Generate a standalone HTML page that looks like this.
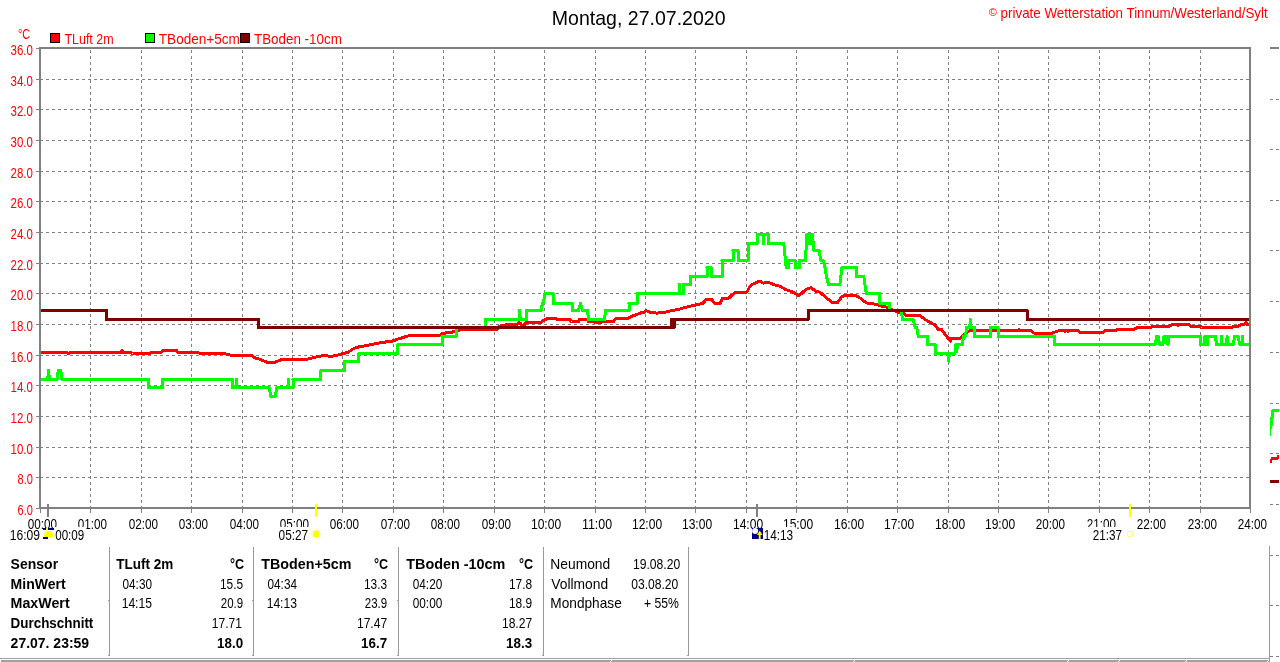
<!DOCTYPE html>
<html><head><meta charset="utf-8"><title>Wetterstation</title>
<style>
html,body{margin:0;padding:0;background:#fff;overflow:hidden}
svg{display:block;will-change:transform}
text{font-family:"Liberation Sans",sans-serif;font-size:14px;fill:#000;white-space:pre}
.r{fill:#ff0000}
.b{font-weight:bold}
.d{stroke:#808080;stroke-width:1;fill:none;stroke-dasharray:3 3;shape-rendering:crispEdges}
</style></head><body>
<svg width="1280" height="662" viewBox="0 0 1280 662">
<rect x="0" y="0" width="1280" height="662" fill="#fff"/>
<line class="d" x1="40" y1="79.5" x2="1249" y2="79.5"/>
<line class="d" x1="40" y1="109.5" x2="1249" y2="109.5"/>
<line class="d" x1="40" y1="140.5" x2="1249" y2="140.5"/>
<line class="d" x1="40" y1="171.5" x2="1249" y2="171.5"/>
<line class="d" x1="40" y1="201.5" x2="1249" y2="201.5"/>
<line class="d" x1="40" y1="232.5" x2="1249" y2="232.5"/>
<line class="d" x1="40" y1="263.5" x2="1249" y2="263.5"/>
<line class="d" x1="40" y1="293.5" x2="1249" y2="293.5"/>
<line class="d" x1="40" y1="324.5" x2="1249" y2="324.5"/>
<line class="d" x1="40" y1="355.5" x2="1249" y2="355.5"/>
<line class="d" x1="40" y1="385.5" x2="1249" y2="385.5"/>
<line class="d" x1="40" y1="416.5" x2="1249" y2="416.5"/>
<line class="d" x1="40" y1="447.5" x2="1249" y2="447.5"/>
<line class="d" x1="40" y1="477.5" x2="1249" y2="477.5"/>
<line class="d" x1="90.5" y1="47" x2="90.5" y2="507" stroke-dashoffset="3"/>
<line class="d" x1="141.5" y1="47" x2="141.5" y2="507" stroke-dashoffset="3"/>
<line class="d" x1="191.5" y1="47" x2="191.5" y2="507" stroke-dashoffset="3"/>
<line class="d" x1="242.5" y1="47" x2="242.5" y2="507" stroke-dashoffset="3"/>
<line class="d" x1="292.5" y1="47" x2="292.5" y2="507" stroke-dashoffset="3"/>
<line class="d" x1="342.5" y1="47" x2="342.5" y2="507" stroke-dashoffset="3"/>
<line class="d" x1="393.5" y1="47" x2="393.5" y2="507" stroke-dashoffset="3"/>
<line class="d" x1="443.5" y1="47" x2="443.5" y2="507" stroke-dashoffset="3"/>
<line class="d" x1="494.5" y1="47" x2="494.5" y2="507" stroke-dashoffset="3"/>
<line class="d" x1="544.5" y1="47" x2="544.5" y2="507" stroke-dashoffset="3"/>
<line class="d" x1="595.5" y1="47" x2="595.5" y2="507" stroke-dashoffset="3"/>
<line class="d" x1="645.5" y1="47" x2="645.5" y2="507" stroke-dashoffset="3"/>
<line class="d" x1="695.5" y1="47" x2="695.5" y2="507" stroke-dashoffset="3"/>
<line class="d" x1="746.5" y1="47" x2="746.5" y2="507" stroke-dashoffset="3"/>
<line class="d" x1="796.5" y1="47" x2="796.5" y2="507" stroke-dashoffset="3"/>
<line class="d" x1="847.5" y1="47" x2="847.5" y2="507" stroke-dashoffset="3"/>
<line class="d" x1="897.5" y1="47" x2="897.5" y2="507" stroke-dashoffset="3"/>
<line class="d" x1="948.5" y1="47" x2="948.5" y2="507" stroke-dashoffset="3"/>
<line class="d" x1="998.5" y1="47" x2="998.5" y2="507" stroke-dashoffset="3"/>
<line class="d" x1="1048.5" y1="47" x2="1048.5" y2="507" stroke-dashoffset="3"/>
<line class="d" x1="1099.5" y1="47" x2="1099.5" y2="507" stroke-dashoffset="3"/>
<line class="d" x1="1149.5" y1="47" x2="1149.5" y2="507" stroke-dashoffset="3"/>
<line class="d" x1="1200.5" y1="47" x2="1200.5" y2="507" stroke-dashoffset="3"/>
<g fill="none" stroke-width="3" stroke-linejoin="round" stroke-linecap="butt" shape-rendering="crispEdges">
<path stroke="#ff0000" d="M40.0 352.5 L67.0 352.5 L68.5 353.5 L70.0 352.5 L121.0 352.5 L122.3 350.5 L123.5 352.5 L131.0 352.5 L132.5 353.5 L150.0 353.5 L151.5 352.5 L161.0 352.5 L163.0 350.5 L176.5 350.5 L178.0 352.5 L179.0 353.0 L180.0 352.5 L198.0 352.5 L200.0 353.5 L208.8 353.5 L209.4 354.3 L210.0 353.5 L225.0 353.5 L227.0 354.5 L230.0 355.0 L251.0 355.0 L254.4 357.6 L260.4 359.5 L266.5 362.0 L267.0 362.5 L274.5 362.5 L278.0 361.0 L281.6 359.5 L300.0 359.5 L308.0 359.0 L312.0 358.0 L316.3 357.0 L321.0 356.0 L323.0 355.3 L326.0 355.5 L328.0 356.0 L333.0 356.0 L338.0 355.0 L342.0 353.8 L347.0 352.7 L350.0 351.0 L353.0 349.0 L356.0 347.5 L365.0 345.8 L380.0 342.8 L394.0 340.8 L398.3 338.9 L404.4 337.1 L409.5 335.5 L440.6 335.5 L442.0 333.5 L454.0 331.8 L458.8 330.5 L461.0 329.4 L497.0 329.4 L500.0 326.0 L507.5 324.5 L516.6 324.5 L518.0 323.5 L519.2 322.5 L520.4 323.5 L521.5 325.0 L524.0 325.0 L526.4 322.5 L540.8 322.2 L546.8 318.6 L555.9 318.3 L557.0 319.2 L569.5 319.5 L571.5 321.5 L578.5 321.5 L579.5 319.5 L587.0 319.5 L588.5 321.5 L595.0 321.5 L595.5 322.5 L600.5 322.5 L601.0 321.5 L613.5 321.5 L616.0 318.7 L620.0 318.2 L628.4 318.2 L633.0 315.6 L636.7 314.7 L640.5 312.9 L644.3 312.4 L645.8 310.6 L647.3 311.0 L651.0 312.6 L657.6 313.1 L665.1 312.3 L672.7 310.4 L680.2 308.9 L687.8 306.7 L695.3 305.1 L702.9 303.3 L704.5 301.5 L706.0 299.5 L711.7 299.5 L714.5 303.3 L720.4 303.3 L722.0 298.8 L728.0 298.8 L734.7 292.7 L746.4 292.5 L748.0 290.0 L749.7 286.6 L752.0 284.5 L754.2 283.6 L757.0 282.5 L759.5 281.1 L761.5 282.0 L763.3 283.2 L765.5 282.5 L767.8 282.1 L770.0 283.0 L773.9 284.7 L779.9 286.2 L786.0 289.7 L792.0 291.6 L796.0 294.0 L798.8 295.9 L801.5 293.5 L805.6 289.6 L810.9 287.7 L813.0 289.0 L815.4 291.1 L819.9 292.2 L825.2 296.7 L829.0 300.0 L832.8 302.8 L837.3 302.8 L839.5 300.0 L841.8 296.7 L844.0 295.6 L847.9 295.2 L853.0 295.2 L856.9 296.0 L861.5 299.0 L866.0 302.8 L870.0 303.5 L876.6 304.3 L881.9 306.1 L887.1 307.3 L891.7 309.6 L896.0 311.5 L898.0 312.3 L900.0 312.0 L903.0 313.0 L906.3 315.3 L919.5 315.3 L922.0 317.0 L925.2 319.5 L932.8 324.0 L935.0 324.8 L937.3 328.0 L938.0 329.5 L941.5 329.5 L945.0 334.0 L948.0 338.0 L950.3 341.0 L951.5 338.5 L959.6 338.5 L963.0 335.5 L966.5 332.5 L969.9 330.5 L1018.5 330.5 L1019.0 329.8 L1019.5 330.5 L1031.0 330.5 L1033.0 332.5 L1034.7 333.3 L1051.0 333.5 L1055.0 332.0 L1058.6 330.8 L1064.5 330.8 L1065.0 331.8 L1065.5 330.8 L1067.5 330.8 L1068.0 331.8 L1068.5 330.8 L1078.2 330.8 L1080.5 332.7 L1102.4 332.7 L1105.4 330.5 L1116.0 330.5 L1117.5 329.6 L1134.1 329.6 L1135.5 328.5 L1137.0 327.5 L1150.7 327.3 L1152.0 326.6 L1168.9 326.6 L1170.5 325.5 L1171.9 324.8 L1177.5 324.7 L1178.0 325.7 L1178.5 324.7 L1189.4 324.5 L1191.0 326.5 L1200.4 326.5 L1201.5 327.5 L1231.7 327.5 L1232.9 326.5 L1238.2 326.5 L1240.4 324.8 L1244.2 324.5 L1246.0 322.5 L1247.5 324.5 L1249.0 324.5"/>
<path stroke="#00ff00" d="M40.0 379.5 L47.7 379.5 L48.6 370.5 L49.5 379.5 L57.2 379.5 L58.2 370.5 L60.8 370.5 L61.8 379.5 L148.5 379.5 L148.5 387.5 L162.5 387.5 L162.5 379.5 L232.3 379.5 L232.3 387.5 L235.8 387.5 L236.4 379.5 L237.0 387.5 L269.3 387.5 L270.8 396.5 L275.2 396.5 L276.7 387.5 L288.3 387.5 L288.6 379.5 L288.9 387.5 L293.0 387.5 L293.0 379.5 L320.7 379.5 L320.7 370.5 L344.5 370.5 L344.5 361.5 L358.7 361.5 L358.7 353.5 L397.8 353.5 L397.8 344.5 L442.0 344.5 L442.0 336.5 L456.0 336.5 L456.0 327.5 L485.5 327.5 L485.5 319.5 L518.9 319.5 L519.6 310.5 L520.3 319.5 L526.5 319.5 L526.5 310.5 L541.3 310.5 L542.3 303.5 L543.3 303.5 L544.8 293.5 L553.3 293.5 L553.3 303.5 L572.2 303.5 L572.2 310.5 L578.5 310.5 L580.5 303.5 L582.5 310.5 L587.6 310.5 L588.5 319.5 L604.5 319.5 L605.5 310.5 L629.0 310.5 L629.0 303.5 L637.0 303.5 L637.0 293.5 L679.2 293.5 L679.5 284.5 L679.8 293.5 L683.5 293.5 L683.5 284.5 L690.6 284.5 L690.6 276.5 L707.0 276.5 L707.0 267.5 L711.2 267.5 L711.2 276.5 L722.0 276.5 L722.0 260.5 L733.0 260.5 L733.0 250.5 L738.0 250.5 L738.0 260.5 L748.3 260.5 L748.3 243.5 L757.2 243.5 L757.2 234.5 L763.2 234.5 L763.6 243.5 L764.0 234.5 L768.5 234.5 L768.5 243.5 L783.8 243.5 L786.2 267.5 L788.7 267.5 L788.7 260.5 L795.0 260.5 L795.0 267.5 L799.5 267.5 L799.5 260.5 L805.5 260.5 L806.8 234.5 L808.0 234.5 L808.8 243.5 L809.6 234.5 L810.4 243.5 L811.2 234.5 L812.5 234.5 L813.8 250.5 L819.0 250.5 L820.8 260.5 L823.2 260.5 L825.0 267.5 L826.5 276.5 L828.5 284.5 L839.8 284.5 L842.0 267.5 L856.6 267.5 L856.6 276.5 L863.8 276.5 L866.3 293.5 L879.7 293.5 L879.7 303.5 L889.5 303.5 L889.5 310.5 L901.3 310.5 L902.5 319.5 L913.2 319.5 L915.2 327.5 L916.8 327.5 L918.3 336.5 L927.5 336.5 L927.5 344.5 L935.2 344.5 L935.2 353.5 L948.2 353.5 L948.7 361.5 L949.2 353.5 L955.0 353.5 L955.8 344.5 L956.7 351.5 L957.6 344.5 L962.4 344.5 L963.4 336.5 L965.4 336.5 L966.6 327.5 L969.9 327.5 L970.2 319.5 L970.5 327.5 L974.4 327.5 L974.4 336.5 L990.5 336.5 L990.5 327.5 L998.0 327.5 L998.0 336.5 L1054.6 336.5 L1054.6 344.5 L1155.2 344.5 L1156.6 336.5 L1158.0 336.5 L1159.6 344.5 L1162.9 344.5 L1164.0 336.5 L1165.4 336.5 L1166.2 342.5 L1167.0 336.5 L1168.0 344.5 L1168.9 336.5 L1200.5 336.5 L1200.5 344.5 L1204.4 344.5 L1205.0 336.5 L1205.6 344.5 L1206.6 344.5 L1207.4 344.5 L1207.4 336.5 L1215.5 336.5 L1216.5 344.5 L1221.2 344.5 L1221.5 336.5 L1221.8 344.5 L1226.6 344.5 L1227.1 336.5 L1227.6 344.5 L1233.3 344.5 L1234.5 336.5 L1238.0 336.5 L1239.7 344.5 L1242.3 344.5 L1242.6 336.5 L1242.9 344.5 L1249.0 344.5"/>
<path stroke="#800000" d="M40.0 310.5 L106.5 310.5 L106.5 319.5 L258.5 319.5 L258.5 327.5 L671.5 327.5 L671.5 319.5 L673.3 319.5 L674.0 328.0 L674.7 319.5 L808.2 319.5 L808.2 310.5 L1027.2 310.5 L1027.2 319.5 L1249.0 319.5"/>
</g>
<g fill="#808080" shape-rendering="crispEdges">
<rect x="39" y="47" width="1212" height="2"/>
<rect x="39" y="507" width="1212" height="2"/>
<rect x="39" y="47" width="2" height="462"/>
<rect x="1249" y="47" width="2" height="462"/>
<rect x="36" y="48" width="3" height="1"/>
<rect x="36" y="79" width="3" height="1"/>
<rect x="36" y="109" width="3" height="1"/>
<rect x="36" y="140" width="3" height="1"/>
<rect x="36" y="171" width="3" height="1"/>
<rect x="36" y="201" width="3" height="1"/>
<rect x="36" y="232" width="3" height="1"/>
<rect x="36" y="263" width="3" height="1"/>
<rect x="36" y="293" width="3" height="1"/>
<rect x="36" y="324" width="3" height="1"/>
<rect x="36" y="355" width="3" height="1"/>
<rect x="36" y="385" width="3" height="1"/>
<rect x="36" y="416" width="3" height="1"/>
<rect x="36" y="447" width="3" height="1"/>
<rect x="36" y="477" width="3" height="1"/>
<rect x="36" y="508" width="3" height="1"/>
<rect x="40" y="509" width="1" height="4"/>
<rect x="90" y="509" width="1" height="4"/>
<rect x="141" y="509" width="1" height="4"/>
<rect x="191" y="509" width="1" height="4"/>
<rect x="242" y="509" width="1" height="4"/>
<rect x="292" y="509" width="1" height="4"/>
<rect x="342" y="509" width="1" height="4"/>
<rect x="393" y="509" width="1" height="4"/>
<rect x="443" y="509" width="1" height="4"/>
<rect x="494" y="509" width="1" height="4"/>
<rect x="544" y="509" width="1" height="4"/>
<rect x="595" y="509" width="1" height="4"/>
<rect x="645" y="509" width="1" height="4"/>
<rect x="695" y="509" width="1" height="4"/>
<rect x="746" y="509" width="1" height="4"/>
<rect x="796" y="509" width="1" height="4"/>
<rect x="847" y="509" width="1" height="4"/>
<rect x="897" y="509" width="1" height="4"/>
<rect x="948" y="509" width="1" height="4"/>
<rect x="998" y="509" width="1" height="4"/>
<rect x="1048" y="509" width="1" height="4"/>
<rect x="1099" y="509" width="1" height="4"/>
<rect x="1149" y="509" width="1" height="4"/>
<rect x="1200" y="509" width="1" height="4"/>
<rect x="1250" y="509" width="1" height="4"/>
<rect x="47" y="504" width="2" height="13"/>
<rect x="756" y="504" width="2" height="13"/>
</g>
<rect x="315" y="504" width="2" height="13" fill="#ffff00"/>
<rect x="1129" y="504" width="2" height="13" fill="#ffff00"/>
<rect x="50.5" y="33.5" width="9" height="9" fill="#ff0000" stroke="#000" stroke-width="1" shape-rendering="crispEdges"/>
<rect x="145.5" y="33.5" width="9" height="9" fill="#00ff00" stroke="#000" stroke-width="1" shape-rendering="crispEdges"/>
<rect x="240.5" y="33.5" width="9" height="9" fill="#800000" stroke="#000" stroke-width="1" shape-rendering="crispEdges"/>
<text transform="translate(551.84 24.6) scale(0.9624 1)" style="font-size:20.3px;">Montag, 27.07.2020</text>
<text transform="translate(988.80 16.0) scale(1.0125 1)" style="font-size:11px;fill:#ff0000;">©</text>
<text transform="translate(1000.60 18.0) scale(0.9555 1)" style="fill:#ff0000;">private Wetterstation Tinnum/Westerland/Sylt</text>
<text transform="translate(64.40 44.0) scale(0.8923 1)" style="fill:#ff0000;">TLuft 2m</text>
<text transform="translate(158.80 44.0) scale(0.9711 1)" style="fill:#ff0000;">TBoden+5cm</text>
<text transform="translate(254.00 44.0) scale(0.9577 1)" style="fill:#ff0000;">TBoden -10cm</text>
<text transform="translate(18.00 39.0) scale(0.7821 1)" style="fill:#ff0000;">°C</text>
<text transform="translate(10.60 55.0) scale(0.8193 1)" style="fill:#ff0000;">36.0</text>
<text transform="translate(10.60 86.0) scale(0.8193 1)" style="fill:#ff0000;">34.0</text>
<text transform="translate(10.60 116.0) scale(0.8193 1)" style="fill:#ff0000;">32.0</text>
<text transform="translate(10.60 147.0) scale(0.8193 1)" style="fill:#ff0000;">30.0</text>
<text transform="translate(10.60 178.0) scale(0.8193 1)" style="fill:#ff0000;">28.0</text>
<text transform="translate(10.60 208.0) scale(0.8193 1)" style="fill:#ff0000;">26.0</text>
<text transform="translate(10.60 239.0) scale(0.8193 1)" style="fill:#ff0000;">24.0</text>
<text transform="translate(10.60 270.0) scale(0.8193 1)" style="fill:#ff0000;">22.0</text>
<text transform="translate(10.60 300.0) scale(0.8193 1)" style="fill:#ff0000;">20.0</text>
<text transform="translate(10.58 331.0) scale(0.8200 1)" style="fill:#ff0000;">18.0</text>
<text transform="translate(10.58 362.0) scale(0.8200 1)" style="fill:#ff0000;">16.0</text>
<text transform="translate(10.58 392.0) scale(0.8200 1)" style="fill:#ff0000;">14.0</text>
<text transform="translate(10.58 423.0) scale(0.8200 1)" style="fill:#ff0000;">12.0</text>
<text transform="translate(10.58 454.0) scale(0.8200 1)" style="fill:#ff0000;">10.0</text>
<text transform="translate(17.60 484.0) scale(0.7878 1)" style="fill:#ff0000;">8.0</text>
<text transform="translate(17.60 515.0) scale(0.7878 1)" style="fill:#ff0000;">6.0</text>
<text transform="translate(27.80 529.0) scale(0.8369 1)">00:00</text>
<text transform="translate(77.80 529.0) scale(0.8369 1)">01:00</text>
<text transform="translate(128.80 529.0) scale(0.8369 1)">02:00</text>
<text transform="translate(178.80 529.0) scale(0.8369 1)">03:00</text>
<text transform="translate(229.80 529.0) scale(0.8369 1)">04:00</text>
<text transform="translate(279.80 529.0) scale(0.8369 1)">05:00</text>
<text transform="translate(329.80 529.0) scale(0.8369 1)">06:00</text>
<text transform="translate(380.80 529.0) scale(0.8369 1)">07:00</text>
<text transform="translate(430.80 529.0) scale(0.8369 1)">08:00</text>
<text transform="translate(481.80 529.0) scale(0.8369 1)">09:00</text>
<text transform="translate(530.94 529.0) scale(0.8614 1)">10:00</text>
<text transform="translate(581.91 529.0) scale(0.8883 1)">11:00</text>
<text transform="translate(631.94 529.0) scale(0.8614 1)">12:00</text>
<text transform="translate(681.94 529.0) scale(0.8614 1)">13:00</text>
<text transform="translate(732.94 529.0) scale(0.8614 1)">14:00</text>
<text transform="translate(782.94 529.0) scale(0.8614 1)">15:00</text>
<text transform="translate(833.94 529.0) scale(0.8614 1)">16:00</text>
<text transform="translate(883.94 529.0) scale(0.8614 1)">17:00</text>
<text transform="translate(934.94 529.0) scale(0.8614 1)">18:00</text>
<text transform="translate(984.94 529.0) scale(0.8614 1)">19:00</text>
<text transform="translate(1035.80 529.0) scale(0.8369 1)">20:00</text>
<text transform="translate(1086.80 529.0) scale(0.8369 1)">21:00</text>
<text transform="translate(1136.80 529.0) scale(0.8369 1)">22:00</text>
<text transform="translate(1187.80 529.0) scale(0.8369 1)">23:00</text>
<text transform="translate(1237.80 529.0) scale(0.8369 1)">24:00</text>
<text transform="translate(10.60 569.0) scale(1.0028 1)" class="b">Sensor</text>
<text transform="translate(10.60 589.0) scale(1.0018 1)" class="b">MinWert</text>
<text transform="translate(10.60 608.0) scale(1.0166 1)" class="b">MaxWert</text>
<text transform="translate(10.60 628.0) scale(0.9593 1)" class="b">Durchschnitt</text>
<text transform="translate(10.60 648.0) scale(0.9996 1)" class="b">27.07. 23:59</text>
<text transform="translate(116.30 569.0) scale(0.9667 1)" class="b">TLuft 2m</text>
<text transform="translate(230.00 569.0) scale(0.8975 1)" class="b">°C</text>
<text transform="translate(122.50 589.0) scale(0.8426 1)">04:30</text>
<text transform="translate(219.95 589.0) scale(0.8503 1)">15.5</text>
<text transform="translate(121.63 608.0) scale(0.8672 1)">14:15</text>
<text transform="translate(220.80 608.0) scale(0.8193 1)">20.9</text>
<text transform="translate(211.74 628.0) scale(0.8614 1)">17.71</text>
<text transform="translate(217.10 648.0) scale(0.9540 1)" class="b">18.0</text>
<text transform="translate(261.25 569.0) scale(1.0216 1)" class="b">TBoden+5cm</text>
<text transform="translate(374.00 569.0) scale(0.8975 1)" class="b">°C</text>
<text transform="translate(267.50 589.0) scale(0.8426 1)">04:34</text>
<text transform="translate(363.95 589.0) scale(0.8503 1)">13.3</text>
<text transform="translate(266.63 608.0) scale(0.8672 1)">14:13</text>
<text transform="translate(364.80 608.0) scale(0.8193 1)">23.9</text>
<text transform="translate(356.94 628.0) scale(0.8614 1)">17.47</text>
<text transform="translate(361.10 648.0) scale(0.9540 1)" class="b">16.7</text>
<text transform="translate(406.25 569.0) scale(1.0285 1)" class="b">TBoden -10cm</text>
<text transform="translate(519.00 569.0) scale(0.8975 1)" class="b">°C</text>
<text transform="translate(412.75 589.0) scale(0.8426 1)">04:20</text>
<text transform="translate(508.95 589.0) scale(0.8503 1)">17.8</text>
<text transform="translate(412.75 608.0) scale(0.8426 1)">00:00</text>
<text transform="translate(508.95 608.0) scale(0.8503 1)">18.9</text>
<text transform="translate(501.94 628.0) scale(0.8614 1)">18.27</text>
<text transform="translate(506.10 648.0) scale(0.9540 1)" class="b">18.3</text>
<text transform="translate(550.31 569.0) scale(0.9878 1)">Neumond</text>
<text transform="translate(632.93 569.0) scale(0.8676 1)">19.08.20</text>
<text transform="translate(551.30 589.0) scale(0.9876 1)">Vollmond</text>
<text transform="translate(631.20 589.0) scale(0.8646 1)">03.08.20</text>
<text transform="translate(550.32 608.0) scale(0.9768 1)">Mondphase</text>
<text transform="translate(643.90 608.0) scale(0.8729 1)">+ 55%</text>
<text transform="translate(9.74 540.0) scale(0.8643 1)">16:09</text>
<rect x="54.2" y="527" width="32.2" height="14" fill="#fff"/>
<text transform="translate(55.20 540.0) scale(0.8284 1)">00:09</text>
<rect x="271.6" y="527" width="39.7" height="14" fill="#fff"/>
<text transform="translate(278.60 540.0) scale(0.8426 1)">05:27</text>
<rect x="763.5" y="527" width="31.9" height="14" fill="#fff"/>
<text transform="translate(763.66 540.0) scale(0.8438 1)">14:13</text>
<rect x="1085.7" y="527" width="39.5" height="14" fill="#fff"/>
<text transform="translate(1092.70 540.0) scale(0.8369 1)">21:37</text>
<g shape-rendering="crispEdges">
<rect x="43" y="528" width="12" height="12" fill="#fff"/>
<rect x="43" y="528" width="11" height="2" fill="#000080"/>
<rect x="46" y="528" width="2" height="2" fill="#ffff00"/>
<rect x="43" y="537" width="5" height="2" fill="#000080"/>
</g>
<path d="M44 537 L44 535.2 Q44.6 531 48.6 531 Q52.6 531 53.2 535.2 L53.2 537 Z" fill="#ffff00"/>
<g stroke="#ffff80" stroke-width="1" fill="none"><path d="M312 530 L320.5 538.5 M320.5 530 L312 538.5 M316.2 528.5 V539.5 M311 534 H321.5"/></g>
<circle cx="316.2" cy="534" r="3.4" fill="#ffff00"/>
<rect x="752" y="528" width="11" height="11" fill="#000080" shape-rendering="crispEdges"/>
<circle cx="755.1" cy="531.1" r="3" fill="#fff"/>
<path d="M759.7 530.5 L762.5 535 L760.6 535 L760.6 539 L758.8 539 L758.8 535 L757 535 Z" fill="#ffff00"/>
<rect x="1127.5" y="531.5" width="5" height="5" rx="1" fill="none" stroke="#ffff60" stroke-width="1"/>
<g fill="#808080" shape-rendering="crispEdges">
<rect x="1270" y="47" width="9" height="2"/>
<rect x="1270" y="99" width="3" height="1"/><rect x="1276" y="99" width="3" height="1"/>
<rect x="1270" y="149" width="3" height="1"/><rect x="1276" y="149" width="3" height="1"/>
<rect x="1270" y="200" width="3" height="1"/><rect x="1276" y="200" width="3" height="1"/>
<rect x="1270" y="250" width="3" height="1"/><rect x="1276" y="250" width="3" height="1"/>
<rect x="1270" y="301" width="3" height="1"/><rect x="1276" y="301" width="3" height="1"/>
<rect x="1270" y="352" width="3" height="1"/><rect x="1276" y="352" width="3" height="1"/>
<rect x="1270" y="403" width="3" height="1"/><rect x="1276" y="403" width="3" height="1"/>
<rect x="1270" y="453" width="3" height="1"/><rect x="1276" y="453" width="3" height="1"/>
<rect x="1270" y="504" width="3" height="1"/><rect x="1276" y="504" width="3" height="1"/>
<rect x="1270" y="555" width="3" height="1"/><rect x="1276" y="555" width="3" height="1"/>
<rect x="1270" y="605" width="3" height="1"/><rect x="1276" y="605" width="3" height="1"/>
<rect x="1270" y="656" width="3" height="1"/><rect x="1276" y="656" width="3" height="1"/>
</g>
<g fill="#00ff00" shape-rendering="crispEdges">
<rect x="1272" y="409" width="7" height="3"/><rect x="1271" y="410" width="3" height="8"/><rect x="1270" y="417" width="3" height="9"/><rect x="1270" y="426" width="2" height="3"/><rect x="1270" y="429" width="1" height="7"/>
</g>
<g fill="#ff0000" shape-rendering="crispEdges">
<rect x="1270" y="459" width="2" height="4"/><rect x="1271" y="457" width="7" height="3"/><rect x="1277" y="455" width="2" height="4"/>
</g>
<rect x="1270" y="480" width="9" height="3" fill="#800000"/>
<rect x="1269" y="546" width="1" height="116" fill="#999"/>
<g fill="#999" shape-rendering="crispEdges">
<rect x="109" y="547" width="1" height="109"/>
<rect x="108" y="655" width="1" height="1"/>
<rect x="253" y="547" width="1" height="109"/>
<rect x="252" y="655" width="1" height="1"/>
<rect x="398" y="547" width="1" height="109"/>
<rect x="397" y="655" width="1" height="1"/>
<rect x="543" y="547" width="1" height="109"/>
<rect x="542" y="655" width="1" height="1"/>
<rect x="688" y="547" width="1" height="109"/>
<rect x="687" y="655" width="1" height="1"/>
<rect x="108" y="600" width="1" height="1"/>
<rect x="252" y="600" width="1" height="1"/>
<rect x="397" y="600" width="1" height="1"/>
</g>
<rect x="0" y="658" width="1270" height="1" fill="#a0a0a0"/>
<rect x="1" y="660" width="1268" height="2" fill="#a0a0a0"/>
<rect x="611" y="660" width="1" height="1" fill="#fff"/><rect x="610" y="661" width="1" height="1" fill="#fff"/>
<rect x="854" y="660" width="1" height="1" fill="#fff"/><rect x="853" y="661" width="1" height="1" fill="#fff"/>
<rect x="1068" y="660" width="1" height="1" fill="#fff"/><rect x="1067" y="661" width="1" height="1" fill="#fff"/>
<rect x="1119" y="660" width="1" height="1" fill="#fff"/><rect x="1118" y="661" width="1" height="1" fill="#fff"/>
<rect x="1186" y="660" width="1" height="1" fill="#fff"/><rect x="1185" y="661" width="1" height="1" fill="#fff"/>
<rect x="1268" y="660" width="1" height="1" fill="#fff"/><rect x="1267" y="661" width="1" height="1" fill="#fff"/>
</svg></body></html>
